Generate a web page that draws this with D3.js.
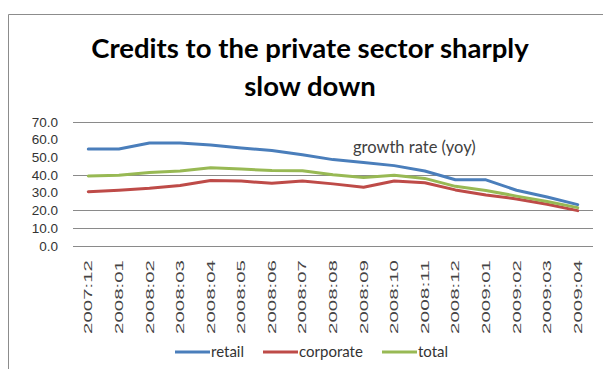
<!DOCTYPE html>
<html>
<head>
<meta charset="utf-8">
<script src="https://cdn.jsdelivr.net/npm/d3@7"></script>
<style>
  html, body { margin: 0; padding: 0; background: #fff; }
  svg { display: block; }
</style>
</head>
<body>
<svg id="chart" width="603" height="369"></svg>
<script>
// Monthly observations
const months = ["2007:12","2008:01","2008:02","2008:03","2008:04","2008:05","2008:06",
  "2008:07","2008:08","2008:09","2008:10","2008:11","2008:12","2009:01","2009:02","2009:03","2009:04"];

// Year-on-year growth of credit, %
const retail    = [54.6, 54.6, 58.0, 58.0, 56.9, 55.2, 53.7, 51.4, 48.6, 47.0, 45.2, 42.2, 37.2, 37.2, 31.3, 27.5, 23.2];
const corporate = [30.5, 31.3, 32.4, 34.0, 36.8, 36.5, 35.2, 36.5, 34.9, 33.0, 36.5, 35.5, 31.5, 28.6, 26.4, 23.4, 19.8];
const total     = [39.4, 39.8, 41.3, 42.2, 44.0, 43.3, 42.4, 42.3, 40.0, 38.5, 39.8, 38.0, 33.5, 31.2, 28.0, 25.0, 21.5];

const seriesNames = ["retail", "corporate", "total"];
const seriesColors = ["#4a7ebb", "#be4b48", "#98b954"];
const yTicks = [0, 10, 20, 30, 40, 50, 60, 70];
const gridValues = [0, 10, 20, 40, 70];

const svg = d3.select("#chart");

// Outer frame
svg.append("path")
  .attr("d", "M8.5,369 L8.5,14.5 L603,14.5")
  .attr("fill", "none").attr("stroke", "#8c8c8c").attr("stroke-width", 1);

// Title
const title = svg.append("text")
  .attr("text-anchor", "middle")
  .attr("font-family", "Lato, 'Open Sans', sans-serif")
  .attr("font-weight", "bold")
  .attr("font-size", 27.5)
  .attr("fill", "#000");
title.append("tspan").attr("x", 310).attr("y", 58).text("Credits to the private sector sharply");
title.append("tspan").attr("x", 310).attr("y", 96).text("slow down");

const x = d3.scaleBand().domain(months).range([73, 593]);
const y = d3.scaleLinear().domain([0, 70]).range([245.7, 121.7]);

// Gridlines
svg.append("g").selectAll("line").data(gridValues).join("line")
  .attr("x1", 73).attr("x2", 593)
  .attr("y1", d => Math.round(y(d)) + 0.5).attr("y2", d => Math.round(y(d)) + 0.5)
  .attr("stroke", "#8a8a8a").attr("stroke-width", 1);

// Y axis labels
const yAxis = svg.append("g")
  .attr("transform", "translate(66,0)")
  .call(d3.axisLeft(y).tickValues(yTicks).tickFormat(d3.format(".1f")).tickSize(0).tickPadding(8));
yAxis.select(".domain").remove();
yAxis.selectAll("text")
  .attr("font-family", "'Liberation Sans', Arial, sans-serif")
  .attr("font-size", 13.5)
  .attr("fill", "#333");

// X axis labels (vertical)
const xAxis = svg.append("g")
  .attr("transform", "translate(0,260)")
  .call(d3.axisBottom(x).tickSize(0).tickPadding(0));
xAxis.select(".domain").remove();
xAxis.selectAll("text")
  .attr("font-family", "'Liberation Sans', Arial, sans-serif")
  .attr("font-size", 11.5)
  .attr("fill", "#444")
  .attr("text-anchor", "end")
  .attr("transform", "rotate(-90)")
  .attr("x", 0).attr("y", 0).attr("dy", "0.35em")
  .attr("textLength", 74)
  .attr("lengthAdjust", "spacingAndGlyphs");

// Series lines
const data = [retail, corporate, total];
const line = d3.line()
  .x((d, i) => x(months[i]) + x.bandwidth() / 2)
  .y(d => y(d));
svg.append("g").selectAll("path").data(data).join("path")
  .attr("d", line)
  .attr("fill", "none")
  .attr("stroke", (d, i) => seriesColors[i])
  .attr("stroke-width", 3)
  .attr("stroke-linejoin", "round")
  .attr("stroke-linecap", "round");

// Annotation
svg.append("text")
  .attr("x", 353).attr("y", 153)
  .attr("font-family", "Lato, 'Open Sans', sans-serif")
  .attr("font-size", 16.5)
  .attr("fill", "#404040")
  .text("growth rate (yoy)");

// Legend
const legendX = [175, 263, 382];
const legend = svg.append("g").selectAll("g").data(seriesNames).join("g")
  .attr("transform", (d, i) => `translate(${legendX[i]},352)`);
legend.append("line")
  .attr("x1", 0).attr("x2", 35).attr("y1", 0).attr("y2", 0)
  .attr("stroke", (d, i) => seriesColors[i]).attr("stroke-width", 3);
legend.append("text")
  .attr("x", 36).attr("y", 0).attr("dy", "0.35em")
  .attr("font-family", "Lato, 'Open Sans', sans-serif")
  .attr("font-size", 15)
  .attr("fill", "#333")
  .text(d => d);
</script>
</body>
</html>
